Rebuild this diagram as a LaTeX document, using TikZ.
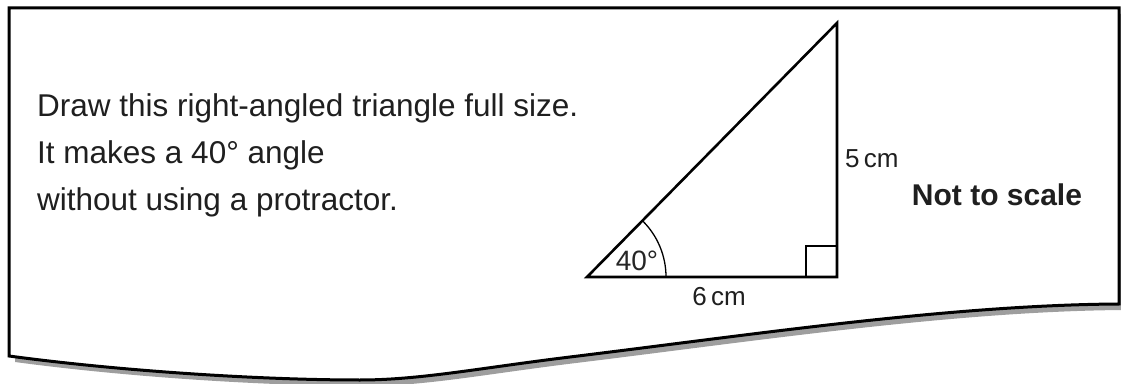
\documentclass[tikz,border=0pt]{standalone}
\usepackage{fontspec}
\setmainfont{Liberation Sans}
\definecolor{shadowgray}{RGB}{158,158,158}
\tikzset{
  frameline/.style={line width=3pt, draw=black, fill=white, line join=miter},
  shadowfill/.style={fill=shadowgray, draw=none},
  triline/.style={line width=2.6pt, line join=miter, miter limit=30},
  thinline/.style={line width=1.3pt},
  maintext/.style={font=\fontsize{31.5}{36}\selectfont, anchor=base west, inner sep=0pt, text=black!88},
  labeltext/.style={font=\fontsize{26}{28}\selectfont, inner sep=0pt, text=black!88},
  angletext/.style={font=\fontsize{28}{30}\selectfont, anchor=base, inner sep=0pt, text=black!85},
  boldtext/.style={font=\bfseries\fontsize{30}{32}\selectfont, anchor=base, inner sep=0pt, text=black!88}
}
\begin{document}
\begin{tikzpicture}[x=1pt,y=1pt]
\useasboundingbox (0,0) rectangle (1121,383);
% shadow
\begin{scope}[shift={(6,-6)}]
\fill[shadowfill] (9,375) -- (1119,375) -- (1119,79) .. controls (950,78) and (750,48) .. (570,26) .. controls (480,15) and (420,3) .. (360,3) .. controls (260,3) and (120,12) .. (9,27) -- cycle;
\end{scope}
% frame
\path[frameline] (9,375) -- (1119,375) -- (1119,79) .. controls (950,78) and (750,48) .. (570,26) .. controls (480,15) and (420,3) .. (360,3) .. controls (260,3) and (120,12) .. (9,27) -- cycle;
% text
\node[maintext] (l1) at (37,266) {Draw this right-angled triangle full size.};
\node[maintext] (l2) at (37,219) {It makes a 40° angle};
\node[maintext] (l3) at (37,172) {without using a protractor.};
% triangle
\coordinate (A) at (587,106);
\coordinate (B) at (837,106);
\coordinate (C) at (837,360);
\draw[triline] (A) -- (B) -- (C) -- cycle;
\draw[thinline] (B) ++(-31,0) -- ++(0,31) -- ++(31,0);
\draw[thinline] (A) ++(79,0) arc[start angle=0, end angle=45.45, radius=79];
\node[angletext] (ang) at (637,113) {40°};
\node[labeltext, anchor=base] (bottom) at (719,78) {6\,cm};
\node[labeltext, anchor=base west] (side) at (845,215) {5\,cm};
\node[boldtext] (nts) at (997,177) {Not to scale};
\end{tikzpicture}
\end{document}
